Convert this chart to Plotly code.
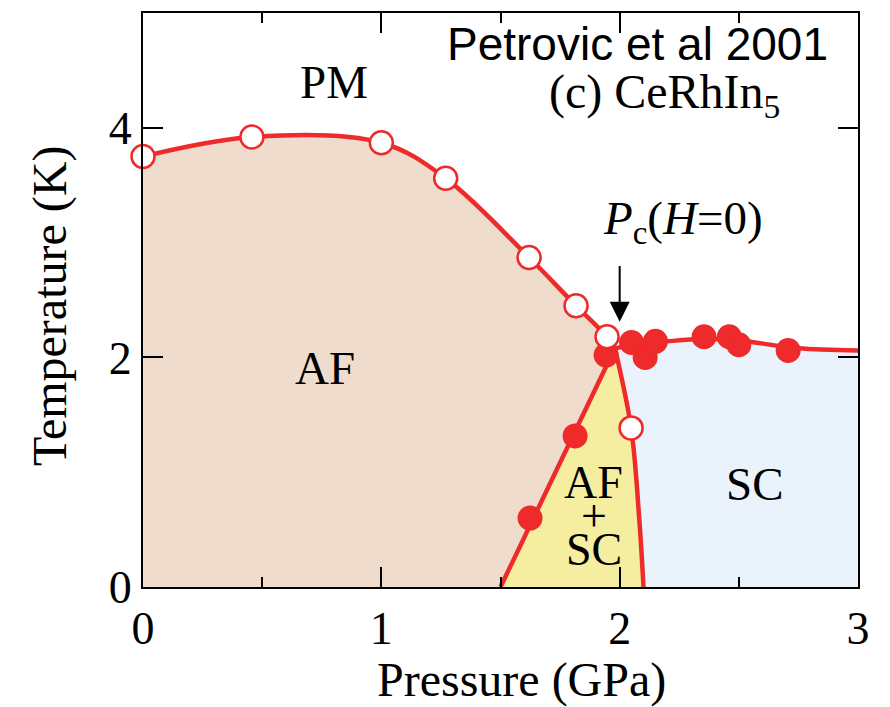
import plotly.graph_objects as go

# Neel temperature T_N (open symbols), GPa / K
p_tn = [0.0, 0.457, 1.0, 1.27, 1.62, 1.817, 1.947, 2.048]
t_tn = [3.75, 3.92, 3.87, 3.56, 2.87, 2.45, 2.18, 1.386]

# superconducting transition T_c (filled symbols)
p_tc = [1.624, 1.813, 1.943, 2.05, 2.107, 2.15, 2.354, 2.46, 2.50, 2.707]
t_tc = [0.60, 1.316, 2.02, 2.13, 2.00, 2.14, 2.18, 2.18, 2.11, 2.06]

# phase boundaries
p_af_line = [0.0, 0.457, 1.0, 1.27, 1.62, 1.817, 1.947, 1.98]
t_af_line = [3.75, 3.92, 3.87, 3.56, 2.87, 2.45, 2.18, 2.08]

p_afsc_left = [1.50, 1.98]
t_afsc_left = [0.0, 2.08]

p_afsc_right = [1.98, 2.048, 2.082, 2.10]
t_afsc_right = [2.08, 1.386, 0.60, 0.0]

p_sc_line = [1.98, 2.10, 2.20, 2.35, 2.50, 2.60, 2.75, 3.0]
t_sc_line = [2.08, 2.12, 2.14, 2.16, 2.15, 2.12, 2.08, 2.06]

RED = "#EE2A2A"
TAN = "#EFDCCD"
YELLOW = "#F5EEA0"
BLUE = "#EAF3FB"
SERIF = "Liberation Serif"
SANS = "Liberation Sans"

fig = go.Figure()

# filled phase regions
fig.add_trace(go.Scatter(x=p_af_line, y=t_af_line, mode="lines",
                         line=dict(width=0, shape="spline"),
                         fill="tozeroy", fillcolor=TAN, hoverinfo="skip"))
fig.add_trace(go.Scatter(x=p_sc_line, y=t_sc_line, mode="lines",
                         line=dict(width=0, shape="spline"),
                         fill="tozeroy", fillcolor=BLUE, hoverinfo="skip"))
fig.add_trace(go.Scatter(x=p_afsc_left + p_afsc_right[1:] + [p_afsc_left[0]],
                         y=t_afsc_left + t_afsc_right[1:] + [t_afsc_left[0]],
                         mode="lines", line=dict(width=0),
                         fill="toself", fillcolor=YELLOW, hoverinfo="skip"))

# boundary lines
line_style = dict(color=RED, width=4.5, shape="spline")
for px_, ty_ in [(p_af_line, t_af_line), (p_sc_line, t_sc_line),
                 (p_afsc_right, t_afsc_right)]:
    fig.add_trace(go.Scatter(x=px_, y=ty_, mode="lines", line=line_style,
                             hoverinfo="skip"))
fig.add_trace(go.Scatter(x=p_afsc_left, y=t_afsc_left, mode="lines",
                         line=dict(color=RED, width=4.5), hoverinfo="skip"))

# data symbols
fig.add_trace(go.Scatter(x=p_tc, y=t_tc, mode="markers", cliponaxis=False,
                         marker=dict(size=23, color=RED,
                                     line=dict(color=RED, width=2))))
fig.add_trace(go.Scatter(x=p_tn, y=t_tn, mode="markers", cliponaxis=False,
                         marker=dict(size=23, color="white",
                                     line=dict(color=RED, width=2.5))))

ann = []


def label(x, y, text, size=47, font=SERIF, **kw):
    ann.append(dict(x=x, y=y, xref="x", yref="y", text=text, showarrow=False,
                    xanchor="center", yanchor="middle",
                    font=dict(family=font, size=size, color="black"), **kw))


label(0.80, 4.40, "PM")
label(0.764, 1.91, "AF")
label(2.568, 0.90, "SC")
label(1.892, 0.906, "AF", size=46)
label(1.892, 0.627, "+", size=46)
label(1.892, 0.331, "SC", size=46)
label(2.073, 4.73, "Petrovic et al 2001", size=46, font=SANS)
label(2.19, 4.29, "(c) CeRhIn<sub>5</sub>", size=48)
label(2.266, 3.18, "<i>P</i><sub>c</sub>(<i>H</i>=0)", size=47)

# arrow pointing at the critical pressure
ann.append(dict(x=2.0, y=2.31, ax=2.0, ay=2.81, xref="x", yref="y",
                axref="x", ayref="y", text="", showarrow=True,
                arrowhead=2, arrowsize=2, arrowwidth=2, arrowcolor="black"))

# axis titles
ann.append(dict(x=0.5287, y=-0.162, xref="paper", yref="paper",
                xanchor="center", yanchor="middle",
                text="Pressure (GPa)", showarrow=False,
                font=dict(family=SERIF, size=48, color="black")))
ann.append(dict(x=-0.130, y=0.4895, xref="paper", yref="paper",
                xanchor="center", yanchor="middle",
                text="Temperature (K)", showarrow=False, textangle=-90,
                font=dict(family=SERIF, size=48, color="black")))

axis_common = dict(showline=True, linecolor="black", linewidth=2,
                   mirror="ticks", ticks="inside", ticklen=20, tickwidth=2,
                   tickcolor="black", showgrid=False, zeroline=False,
                   tickfont=dict(family=SERIF, size=46, color="black"))

fig.update_layout(
    width=890, height=707,
    margin=dict(l=143, r=32, t=13, b=120),
    plot_bgcolor="white", paper_bgcolor="white",
    showlegend=False,
    annotations=ann,
    xaxis=dict(range=[0, 3], tickvals=[0, 1, 2, 3],
               minor=dict(tickvals=[0.5, 1.5, 2.5], ticklen=10, tickwidth=2,
                          ticks="inside", tickcolor="black"),
               **axis_common),
    yaxis=dict(range=[0, 5], tickvals=[0, 2, 4], **axis_common),
)

fig.write_html("out.html")
